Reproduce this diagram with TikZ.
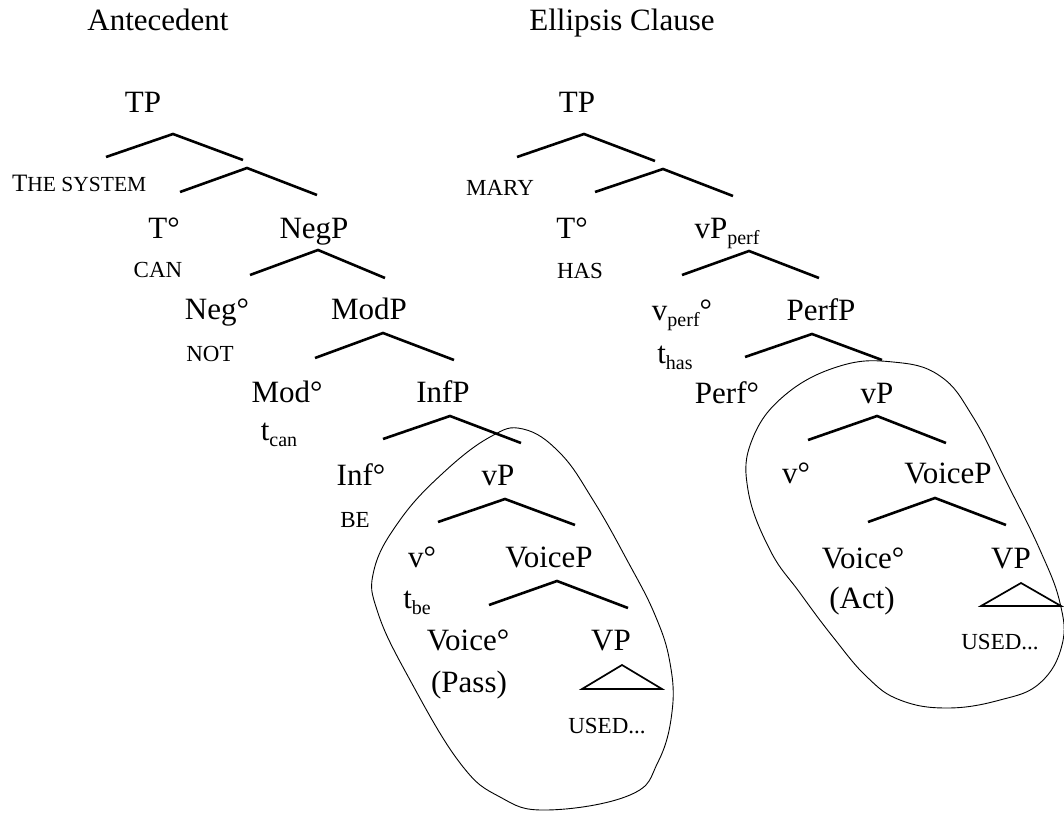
\documentclass[tikz,border=0pt]{standalone}
\usepackage{fontspec}
\setmainfont{Liberation Serif}
\newcommand{\subtxt}[1]{\raisebox{-0.22em}{\fontsize{20}{22}\selectfont #1}}
\begin{document}
\begin{tikzpicture}[x=1pt,y=-1pt,
  lab/.style={font=\fontsize{31}{33}\selectfont, anchor=base, inner sep=0pt},
  sc/.style={font=\fontsize{23}{26}\selectfont, anchor=base, inner sep=0pt},
  br/.style={line width=2.6pt, line join=miter},
  tri/.style={line width=1.7pt, line join=miter},
  loopc/.style={line width=0.9pt}]
\useasboundingbox (0,0) rectangle (1064,813);
\fill[white] (0,0) rectangle (1064,813);

% headings
\node[lab] (antec) at (158,31) {Antecedent};
\node[lab] (ellc) at (622,31) {Ellipsis Clause};

% ---------- left tree ----------
\node[lab] (lTP) at (143,113) {TP};
\node[anchor=base west, inner sep=0pt] (lDP) at (12,191) {\fontsize{25}{26}\selectfont T\fontsize{21.5}{26}\selectfont HE SYSTEM};
\node[lab] (lT) at (164,238) {T°};
\node[lab] (lNegP) at (314,238) {NegP};
\node[sc] (lcan) at (158,277) {CAN};
\node[lab] (lNeg) at (217,319) {Neg°};
\node[lab] (lModP) at (369,319) {ModP};
\node[sc] (lnot) at (210,361) {NOT};
\node[lab] (lMod) at (287,402) {Mod°};
\node[lab] (lInfP) at (443,402) {InfP};
\node[lab] (ltcan) at (279,440) {t\subtxt{can}};
\node[lab] (lInf) at (361,485) {Inf°};
\node[lab] (lvP) at (498,485) {vP};
\node[sc] (lbe) at (355,527) {BE};
\node[lab] (lv) at (422,567) {v°};
\node[lab] (lVoiceP) at (549,567) {VoiceP};
\node[lab] (ltbe) at (417,608) {t\subtxt{be}};
\node[lab] (lVoice) at (468,650) {Voice°};
\node[lab] (lVP) at (611,650) {VP};
\node[lab] (lPass) at (469,692) {(Pass)};
\node[sc] (lused) at (607,733) {USED...};

\coordinate (l1a) at (106,157); \coordinate (l1b) at (173,134); \coordinate (l1c) at (243,160);
\coordinate (l2a) at (180,192); \coordinate (l2b) at (247,168); \coordinate (l2c) at (317,195);
\coordinate (l3a) at (250,275); \coordinate (l3b) at (318,250); \coordinate (l3c) at (385,278);
\coordinate (l4a) at (315,358); \coordinate (l4b) at (383,333); \coordinate (l4c) at (454,360);
\coordinate (l5a) at (383,439); \coordinate (l5b) at (450,416); \coordinate (l5c) at (521,443);
\coordinate (l6a) at (438,522); \coordinate (l6b) at (505,499); \coordinate (l6c) at (575,525);
\coordinate (l7a) at (489,605); \coordinate (l7b) at (557,581); \coordinate (l7c) at (628,608);
\coordinate (lta) at (582,689); \coordinate (ltb) at (622,665); \coordinate (ltc) at (662,689);
\foreach \k in {1,...,7} {\draw[br] (l\k a) -- (l\k b) -- (l\k c);}
\draw[tri] (lta) -- (ltb) -- (ltc) -- cycle;

\draw[loopc] plot[smooth cycle, tension=0.7] coordinates {
  (523,429) (560,453) (593,500) (627,560) (655,615) (670,663) (672,712)
  (658,762) (630,795) (547,810) (500,797) (460,763) (410,680) (378,613)
  (374,570) (400,520) (443,473) (490,437)};

% ---------- right tree ----------
\node[lab] (rTP) at (577,113) {TP};
\node[sc] (rmary) at (500,195) {MARY};
\node[lab] (rT) at (572,238) {T°};
\node[lab] (rvPperf) at (727,238) {vP\subtxt{perf}};
\node[sc] (rhas) at (580,278) {HAS};
\node[lab] (rvperf) at (682,320) {v\subtxt{perf}°};
\node[lab] (rPerfP) at (821,320) {PerfP};
\node[lab] (rthas) at (675,363) {t\subtxt{has}};
\node[lab] (rPerf) at (727,403) {Perf°};
\node[lab] (rvP) at (877,403) {vP};
\node[lab] (rv) at (796,483) {v°};
\node[lab] (rVoiceP) at (948,483) {VoiceP};
\node[lab] (rVoice) at (863,568) {Voice°};
\node[lab] (rVP) at (1011,568) {VP};
\node[lab] (rAct) at (862,608) {(Act)};
\node[sc] (rused) at (1000,649) {USED...};

\coordinate (r1a) at (517,157); \coordinate (r1b) at (584,134); \coordinate (r1c) at (655,161);
\coordinate (r2a) at (595,192); \coordinate (r2b) at (663,169); \coordinate (r2c) at (733,196);
\coordinate (r3a) at (682,275); \coordinate (r3b) at (749,251); \coordinate (r3c) at (819,278);
\coordinate (r4a) at (745,357); \coordinate (r4b) at (812,334); \coordinate (r4c) at (882,360);
\coordinate (r5a) at (808,440); \coordinate (r5b) at (877,416); \coordinate (r5c) at (946,443);
\coordinate (r6a) at (868,522); \coordinate (r6b) at (935,498); \coordinate (r6c) at (1006,525);
\coordinate (rta) at (981,606); \coordinate (rtb) at (1021,583); \coordinate (rtc) at (1061,606);
\foreach \k in {1,...,6} {\draw[br] (r\k a) -- (r\k b) -- (r\k c);}
\draw[tri] (rta) -- (rtb) -- (rtc) -- cycle;

\draw[loopc] plot[smooth cycle, tension=0.7] coordinates {
  (893,362) (940,376) (973,417) (1007,483) (1040,550) (1060,603) (1062,645)
  (1040,683) (1000,700) (947,708) (900,700) (867,677) (833,637) (800,593)
  (770,550) (748,490) (752,440) (785,395) (840,366)};
\end{tikzpicture}
\end{document}
